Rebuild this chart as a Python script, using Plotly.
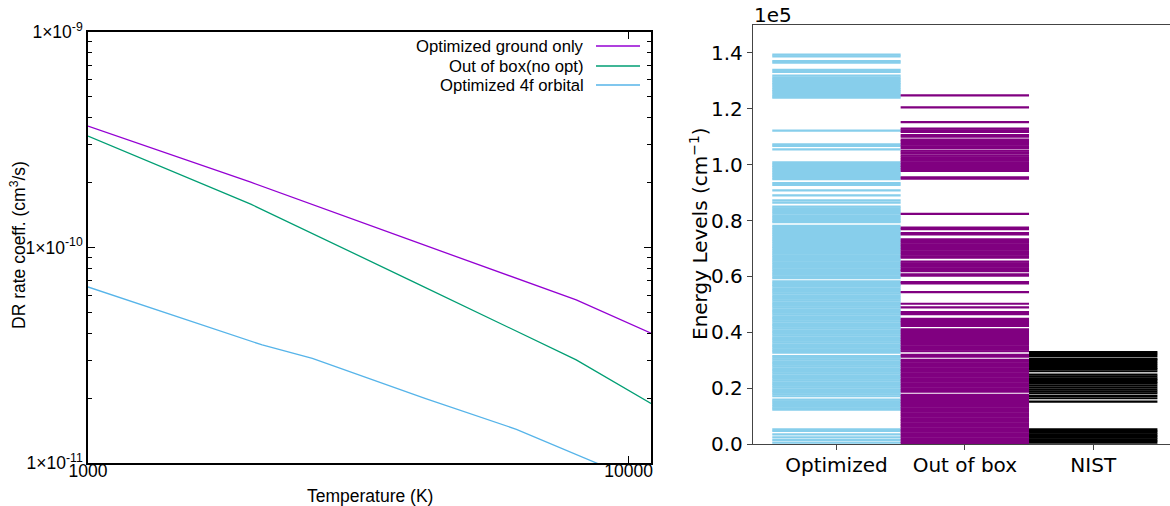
import numpy as np
import plotly.graph_objects as go

W, H = 1170, 506

# ---------------- Left panel data (DR rate coefficients) ----------------
series_names = ["Optimized ground only", "Out of box(no opt)", "Optimized 4f orbital"]
series_colors = ["#9400D3", "#009E73", "#56B4E9"]

temp_ground = [1000, 2000, 4000, 8000, 11000]
rate_ground = [3.66e-10, 2.01e-10, 1.07e-10, 5.71e-11, 4.00e-11]

temp_noopt = [1000, 2000, 4000, 8000, 11000]
rate_noopt = [3.29e-10, 1.59e-10, 6.93e-11, 3.01e-11, 1.89e-11]

temp_4f = [1000, 2100, 2600, 4200, 6200, 10000]
rate_4f = [6.56e-11, 3.53e-11, 3.06e-11, 1.995e-11, 1.433e-11, 8.65e-12]

x_tick_vals = [1000, 10000]
x_tick_text = ["1000", "10000"]
y_tick_vals = [1e-11, 1e-10, 1e-9]
y_tick_text = ["1×10<sup>-11</sup>", "1×10<sup>-10</sup>", "1×10<sup>-9</sup>"]

# ---------------- Right panel data (energy levels, cm^-1) ----------------
categories = ["Optimized", "Out of box", "NIST"]

levels_optimized = [
    139400, 138800, 137100, 136500, 133900, 133200, 131900, 131200, 130600, 130000,
    129400, 128800, 128200, 127500, 126900, 126300, 125700, 125000, 124400, 124000,
    112200, 107300, 106700, 105500,
    100800, 100200, 99600, 99000, 98400, 97800, 97200, 96600, 96000, 95400, 94800,
    93400, 92800, 90800, 89000, 87200, 86400,
    85000, 84400, 83700, 83100, 82500, 81800, 81200, 80600, 80000, 79400,
    78100, 77500, 76900, 76200, 75600, 75000, 74400, 73700, 73100, 72500,
    71900, 71200, 70600, 70000, 69400, 68700, 68100, 67500, 66900, 66200,
    65600, 65000, 64400, 63700, 63100, 62500, 61900, 61200, 60600, 60000, 59400,
    58200, 57600, 57000, 56400, 55700, 55100, 54500, 53900, 53200, 52600,
    52000, 51400, 50700, 50100, 49500, 48900, 48200, 47600, 47000, 46400,
    45700, 45100, 44500, 43900, 43200, 42600, 42000, 41400, 40700, 40100,
    39500, 38900, 38200, 37600, 37000, 36400, 35700, 35100, 34500, 33900, 33300, 32700,
    31500, 30900, 30300, 29600, 29000, 28400, 27800, 27100, 26500, 25900,
    25300, 24600, 24000, 23400, 22800, 22100, 21500, 20900, 20300, 19600,
    19000, 18400, 17800, 17100,
    15900, 15300, 14700, 14000, 13400, 12800, 12300,
    5270, 4660, 3480, 2400, 1430, 470,
]

levels_outofbox = [
    124800, 120500, 115200,
    112900, 112300, 111700, 110600, 110000, 109000, 108400, 107800, 107200, 106600,
    106000, 105000, 104400, 103900, 103200, 102600, 102000, 101400, 100800, 100200,
    99600, 99000, 98400, 97800,
    95500, 95000,
    82400,
    77500, 76900, 75500, 75000,
    73300, 72700, 72100, 71500, 70900, 70200, 69600, 69000, 68400, 67800, 67200, 66700,
    65300, 64700, 64100, 63500, 62900, 62300, 61900,
    60700, 60300, 58000, 57500, 54400, 50200, 48900, 47200, 46500,
    44800, 44200, 43600, 43000, 42300,
    41000, 40400, 39800, 39200, 38600, 38000, 37400, 36800, 36200, 35600,
    35000, 34400, 33800, 33200, 31900, 31300, 30100, 29500, 28900, 28300,
    27700, 27100, 26500, 25900, 25300, 24700, 24100, 23500, 22900, 22300,
    21700, 21100, 20500, 19900, 19300, 18700, 17600, 17000, 16400, 15800,
    15200, 14600, 14000, 13400, 12800, 12200, 11600, 11000, 10400, 9800,
    9200, 8600, 8000, 7400, 6800, 6200, 5600, 5000, 4400, 3800,
    3200, 2600, 2000, 1400, 800, 300,
]

levels_nist = [
    32860, 32260, 31540, 30580, 30100, 29390, 28670, 27950, 27240, 26760,
    26040, 24850, 24130, 23410, 22940, 22220, 21740, 21030, 20310, 19590,
    18870, 18160, 17200, 16370, 15170,
    5260, 4660, 4060, 3470, 2870, 2270, 1670, 1080, 480,
]

level_colors = ["#87CEEB", "#800080", "#000000"]
energy_tick_vals = [0, 20000, 40000, 60000, 80000, 100000, 120000, 140000]
energy_tick_text = ["0.0", "0.2", "0.4", "0.6", "0.8", "1.0", "1.2", "1.4"]


def px(x):
    return x / W


def py(y):
    return 1 - y / H


fig = go.Figure()

# Left panel lines
for name, color, t, r in zip(series_names, series_colors,
                             [temp_ground, temp_noopt, temp_4f],
                             [rate_ground, rate_noopt, rate_4f]):
    fig.add_trace(go.Scatter(x=t, y=r, mode="lines", name=name,
                             line=dict(color=color, width=1.3),
                             xaxis="x", yaxis="y", showlegend=False))

# Right panel: one horizontal segment per level
half = 0.5
for i, (levels, color) in enumerate(zip([levels_optimized, levels_outofbox, levels_nist], level_colors)):
    xs, ys = [], []
    for e in levels:
        xs += [i - half, i + half, None]
        ys += [e, e, None]
    fig.add_trace(go.Scatter(x=xs, y=ys, mode="lines", name=categories[i],
                             line=dict(color=color, width=2.2),
                             xaxis="x2", yaxis="y2", showlegend=False,
                             hoverinfo="skip"))

left_font = dict(family="Liberation Sans, Arial, sans-serif", size=17.5, color="black")
right_font = dict(family="DejaVu Sans, sans-serif", size=20, color="black")

minor_vals = [k * 10.0 ** e for e in (-11, -10) for k in range(2, 10)]

fig.update_layout(
    width=W, height=H,
    autosize=False,
    margin=dict(l=0, r=0, t=0, b=0, pad=0, autoexpand=False),
    paper_bgcolor="white", plot_bgcolor="white",
    showlegend=False,
    xaxis=dict(
        type="log", domain=[px(88), px(651)],
        range=[3, np.log10(11000)],
        tickvals=x_tick_vals, ticktext=x_tick_text,
        ticks="inside", ticklen=7, tickcolor="black", tickwidth=1.2,
        ticklabelstandoff=-9,
        showline=True, linecolor="black", linewidth=1.5, mirror="allticks",
        showgrid=False, zeroline=False, tickfont=left_font,
        anchor="y", automargin=False,
    ),
    yaxis=dict(
        type="log", domain=[py(463), py(32)],
        range=[-11, -9],
        tickvals=y_tick_vals, ticktext=y_tick_text,
        ticks="inside", ticklen=7, tickcolor="black", tickwidth=1.2,
        minor=dict(tickvals=minor_vals, ticks="inside", ticklen=4,
                   tickcolor="black", tickwidth=1, showgrid=False),
        showline=True, linecolor="black", linewidth=1.5, mirror="allticks",
        showgrid=False, zeroline=False, tickfont=left_font,
        anchor="x", automargin=False,
    ),
    xaxis2=dict(
        domain=[px(753), 1.0],
        range=[-0.65, 2.598],
        tickvals=[0, 1, 2], ticktext=categories,
        ticks="outside", ticklen=5, tickcolor="#444", tickwidth=1.2,
        ticklabelstandoff=-2,
        showline=True, linecolor="#444", linewidth=1.3, mirror=True,
        showgrid=False, zeroline=False, tickfont=right_font,
        anchor="y2", automargin=False,
    ),
    yaxis2=dict(
        domain=[py(444), py(25)],
        range=[0, 150000],
        tickvals=energy_tick_vals, ticktext=energy_tick_text,
        ticks="outside", ticklen=5, tickcolor="#444", tickwidth=1.2,
        showline=True, linecolor="#444", linewidth=1.3, mirror=False,
        showgrid=False, zeroline=False, tickfont=right_font,
        anchor="x2", automargin=False,
    ),
)

annotations = [
    dict(text="DR rate coeff. (cm<sup>3</sup>/s)", x=px(18), y=py(245), textangle=-90,
         xref="paper", yref="paper", showarrow=False, font=left_font,
         xanchor="center", yanchor="middle"),
    dict(text="Temperature (K)", x=px(370), y=py(496), xref="paper", yref="paper",
         showarrow=False, font=left_font, xanchor="center", yanchor="middle"),
    dict(text="1e5", x=px(752), y=py(15), xref="paper", yref="paper",
         showarrow=False, font=right_font, xanchor="left", yanchor="middle"),
    dict(text="Energy Levels (cm<sup>−1</sup>)", x=px(699), y=py(234), textangle=-90,
         xref="paper", yref="paper", showarrow=False, font=right_font,
         xanchor="center", yanchor="middle"),
]

legend_rows = [46, 66, 85]
shapes = []
for name, color, row in zip(series_names, series_colors, legend_rows):
    annotations.append(dict(text=name, x=px(586), y=py(row), xref="paper", yref="paper",
                            showarrow=False, xanchor="right", yanchor="middle",
                            font=dict(family="Liberation Sans, Arial, sans-serif", size=16.7, color="black")))
    shapes.append(dict(type="line", xref="paper", yref="paper",
                       x0=px(596), x1=px(640), y0=py(row), y1=py(row),
                       line=dict(color=color, width=1.3)))

fig.update_layout(annotations=annotations, shapes=shapes)

fig.write_html("out.html",
               config={"displayModeBar": False},
               post_script="document.body.style.margin='0px';document.body.style.overflow='hidden';")
